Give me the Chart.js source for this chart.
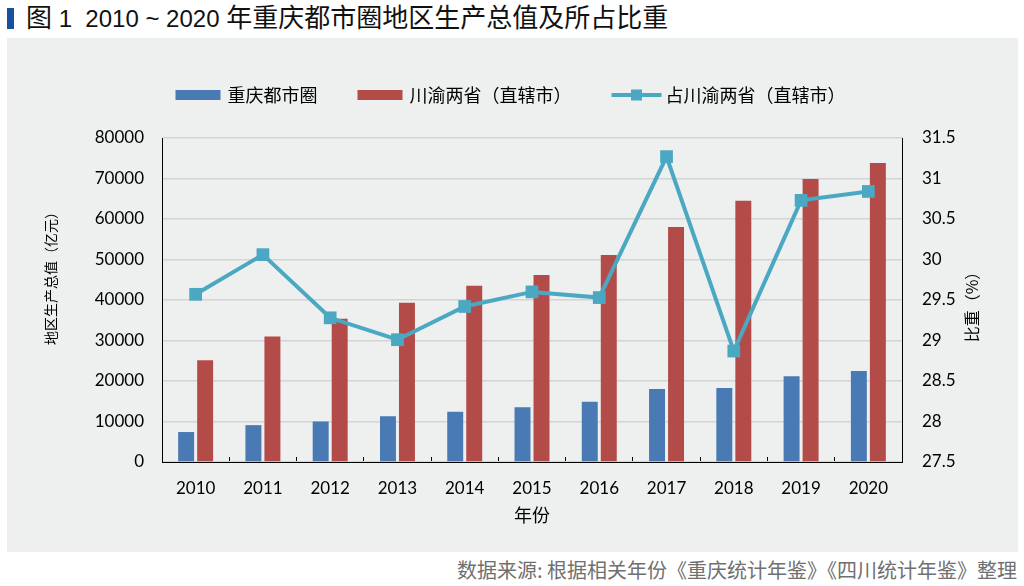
<!DOCTYPE html>
<html lang="zh-CN">
<head>
<meta charset="utf-8">
<title>图1 2010 ~ 2020 年重庆都市圈地区生产总值及所占比重</title>
<script src="https://cdn.jsdelivr.net/npm/chart.js@4.4.1/dist/chart.umd.min.js"></script>
<style>
  html, body { margin: 0; padding: 0; background: #fff; }
  body {
    width: 1024px; height: 586px; position: relative; overflow: hidden;
    font-family: "Liberation Sans", "Noto Sans CJK SC", sans-serif;
  }
  #titleBar { position: absolute; left: 7px; top: 8px; width: 7px; height: 21px; background: #17509c; }
  #title {
    position: absolute; left: 26px; top: 3px; font-size: 26px; line-height: 31px;
    color: #111; white-space: nowrap; font-weight: normal;
  }
  #title .num { font-size: 24px; }
  #panel { position: absolute; left: 7px; top: 38px; width: 1011px; height: 514px; background: #eeefef; }
  #source {
    position: absolute; right: 7px; top: 556px; font-size: 20px; line-height: 28px;
    color: #707070; white-space: nowrap; font-family: "Noto Sans CJK SC", sans-serif;
  }
</style>
</head>
<body>
<div id="titleBar"></div>
<div id="title">图<span class="num"> 1&nbsp; 2010 ~ 2020 </span>年重庆都市圈地区生产总值及所占比重</div>
<div id="panel"><canvas id="gdpChart" width="1011" height="514"></canvas></div>
<div id="source">数据来源: 根据相关年份《重庆统计年鉴》《四川统计年鉴》整理</div>

<script>
// values
const years = ["2010", "2011", "2012", "2013", "2014", "2015", "2016", "2017", "2018", "2019", "2020"];
const cqMetroGdp = [7400, 9100, 10000, 11300, 12400, 13500, 14900, 18000, 18300, 21200, 22500];
const chuanYuGdp = [25100, 31000, 35400, 39300, 43500, 46200, 51100, 58000, 64500, 69900, 73800];
const cqShare = [29.57, 30.06, 29.28, 29.01, 29.42, 29.60, 29.53, 31.27, 28.87, 30.73, 30.84];

const seriesNames = ["重庆都市圈", "川渝两省（直辖市）", "占川渝两省（直辖市）"];
const gdpTicks = [0, 10000, 20000, 30000, 40000, 50000, 60000, 70000, 80000];
const shareTicks = [27.5, 28, 28.5, 29, 29.5, 30, 30.5, 31, 31.5];

const X_TITLE = "年份";
const Y_TITLE = "地区生产总值（亿元）";
const Y1_TITLE = "比重（%）";

const BLUE = "#4a7ab4";
const RED = "#b34c48";
const TEAL = "#4aa8c2";

Chart.defaults.font.family = 'Lato, "Noto Sans CJK SC", sans-serif';
Chart.defaults.color = "#000";

// legend + axis titles drawn by hand (right title reads bottom-to-top)
const decorPlugin = {
  id: "decor",
  afterDraw(chart) {
    const { ctx, chartArea } = chart;
    ctx.save();
    ctx.fillStyle = "#000";
    ctx.textBaseline = "middle";

    // legend
    ctx.font = '18px "Noto Sans CJK SC"';
    const items = [
      { name: seriesNames[0], color: BLUE, kind: "box", w: 45, gap: 7 },
      { name: seriesNames[1], color: RED, kind: "box", w: 45, gap: 7 },
      { name: seriesNames[2], color: TEAL, kind: "line", w: 50, gap: 4 },
    ];
    let total = 0;
    items.forEach((it, i) => {
      it.tw = ctx.measureText(it.name).width;
      total += it.w + it.gap + it.tw + (i ? 40 : 0);
    });
    let x = chart.width / 2 - 2 - total / 2;
    const ly = 57;
    items.forEach((it) => {
      ctx.fillStyle = it.color;
      if (it.kind === "box") {
        ctx.fillRect(x, ly - 5, it.w, 10);
      } else {
        ctx.fillRect(x, ly - 2, it.w, 4);
        ctx.fillRect(x + it.w / 2 - 5.5, ly - 5.5, 11, 11);
      }
      ctx.fillStyle = "#000";
      ctx.textAlign = "left";
      ctx.fillText(it.name, x + it.w + it.gap, ly);
      x += it.w + it.gap + it.tw + 40;
    });

    // axis titles
    ctx.textAlign = "center";
    ctx.font = '18px "Noto Sans CJK SC"';
    ctx.fillText(X_TITLE, (chartArea.left + chartArea.right) / 2, chartArea.bottom + 53);

    ctx.font = '14px "Noto Sans CJK SC"';
    ctx.save();
    ctx.translate(44, chartArea.top + 137);
    ctx.rotate(-Math.PI / 2);
    ctx.fillText(Y_TITLE, 0, 0);
    ctx.restore();

    ctx.font = '16px "Noto Sans CJK SC"';
    ctx.save();
    ctx.translate(chartArea.right + 70, chartArea.top + 165);
    ctx.rotate(-Math.PI / 2);
    ctx.fillText(Y1_TITLE, 0, 0);
    ctx.restore();

    ctx.restore();
  },
};

new Chart(document.getElementById("gdpChart"), {
  type: "bar",
  data: {
    labels: years,
    datasets: [
      {
        label: seriesNames[0],
        data: cqMetroGdp,
        backgroundColor: BLUE,
        yAxisID: "y",
        order: 1,
        categoryPercentage: 0.565,
        barPercentage: 0.84,
      },
      {
        label: seriesNames[1],
        data: chuanYuGdp,
        backgroundColor: RED,
        yAxisID: "y",
        order: 1,
        categoryPercentage: 0.565,
        barPercentage: 0.84,
      },
      {
        type: "line",
        label: seriesNames[2],
        data: cqShare,
        yAxisID: "y1",
        order: 0,
        borderColor: TEAL,
        backgroundColor: TEAL,
        borderWidth: 4,
        tension: 0,
        pointStyle: "rect",
        pointRadius: 9,
        pointBorderWidth: 0,
        pointBackgroundColor: TEAL,
      },
    ],
  },
  options: {
    responsive: false,
    animation: false,
    layout: { padding: { top: 100, left: 0, right: 0, bottom: 0 } },
    plugins: {
      legend: { display: false },
      tooltip: { enabled: false },
    },
    scales: {
      x: {
        grid: {
          offset: true,
          drawOnChartArea: false,
          drawTicks: true,
          tickLength: -5,
          tickColor: "#000",
        },
        border: { color: "#000", width: 1 },
        ticks: { font: { size: 17 }, padding: 21, color: "#000" },
        afterFit: (scale) => { scale.height = 90; },
      },
      y: {
        position: "left",
        min: gdpTicks[0],
        max: gdpTicks[gdpTicks.length - 1],
        afterBuildTicks: (scale) => { scale.ticks = gdpTicks.map((v) => ({ value: v })); },
        grid: { color: "#d4d4d4", lineWidth: 1.5, drawTicks: false },
        border: { color: "#000", width: 1 },
        ticks: { font: { size: 17 }, padding: 18, color: "#000", callback: (v) => String(v) },
        afterFit: (scale) => { scale.width = 155; },
      },
      y1: {
        position: "right",
        min: shareTicks[0],
        max: shareTicks[shareTicks.length - 1],
        afterBuildTicks: (scale) => { scale.ticks = shareTicks.map((v) => ({ value: v })); },
        grid: { drawOnChartArea: false, drawTicks: false },
        border: { color: "#000", width: 1 },
        ticks: { font: { size: 17 }, padding: 20, color: "#000", callback: (v) => String(v) },
        afterFit: (scale) => { scale.width = 116; },
      },
    },
  },
  plugins: [decorPlugin],
});
</script>
</body>
</html>
